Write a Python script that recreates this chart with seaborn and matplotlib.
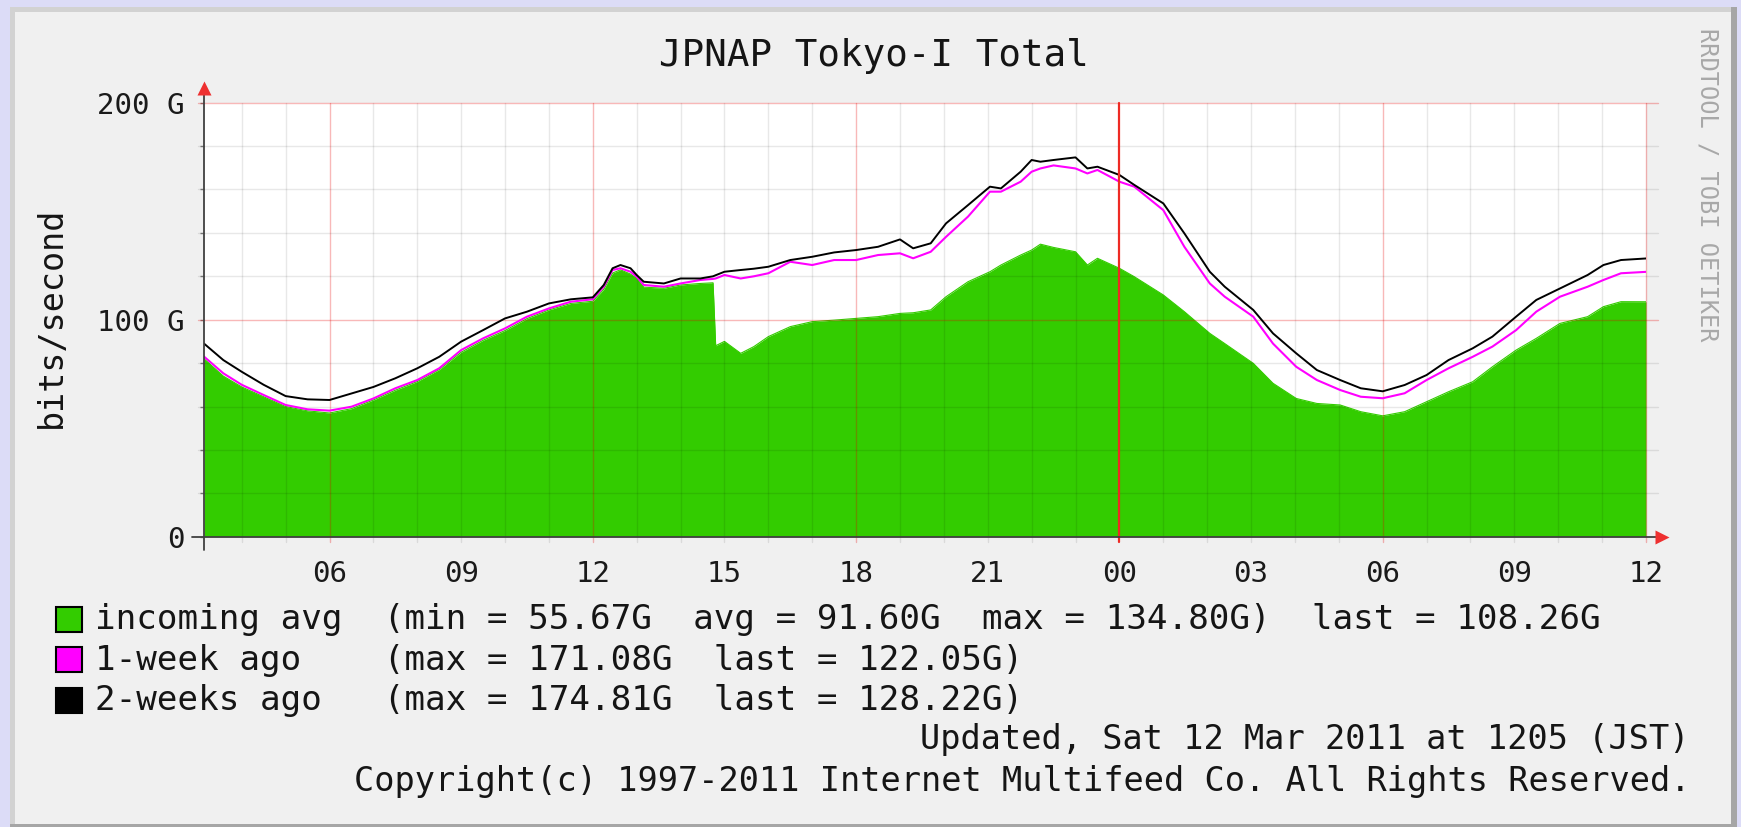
import numpy as np
import pandas as pd
import matplotlib
matplotlib.use("Agg")
import matplotlib.pyplot as plt
from matplotlib.patches import Rectangle
import seaborn as sns

# ---------------- data (hours relative to 06:00 of day 1) ----------------
hours = [-2.86, -2.42, -2.0, -1.5, -1.0, -0.5, 0.0, 0.5, 1.0, 1.5, 2.0, 2.5, 3.0, 3.5,
         4.0, 4.5, 5.0, 5.5, 6.0, 6.25, 6.45, 6.63, 6.86, 7.0, 7.16, 7.62, 8.0, 8.45,
         8.74, 8.80, 9.0, 9.37, 9.67, 10.0, 10.5, 11.0, 11.5, 12.0, 12.5, 13.0, 13.3,
         13.7, 14.05, 14.55, 15.05, 15.3, 15.75, 16.0, 16.2, 16.5, 17.0, 17.27, 17.5,
         18.0, 18.34, 19.0, 19.48, 20.06, 20.4, 21.05, 21.5, 22.03, 22.5, 23.03, 23.5,
         24.0, 24.5, 25.0, 25.5, 26.05, 26.5, 27.04, 27.5, 28.04, 28.67, 29.03, 29.43, 30.0]

incoming = [82, 74, 69, 64.5, 60, 58, 57, 59, 63, 67.5, 71.5, 77, 85, 90.5, 95, 100.5,
            104.5, 107.5, 108.5, 114, 121.5, 123, 121, 119, 115, 114.5, 116, 116.7, 117,
            88, 90, 84.5, 87.6, 92.2, 96.8, 99.1, 99.8, 100.6, 101.4, 102.9, 103.2, 104.5,
            110.6, 117.5, 122.1, 125.2, 129.8, 132.1, 134.8, 133.3, 131.3, 125.2, 128.3,
            123.7, 119.8, 111.4, 103.7, 93.7, 89, 79.9, 70.7, 63.7, 61.4, 60.7, 57.6, 55.7,
            57.6, 62.2, 66.8, 71.4, 78.3, 86, 91.4, 98.3, 101.4, 106, 108.3, 108.26]

week1_ago = [83, 75.3, 70, 65.3, 60.7, 58.7, 58.1, 59.9, 63.7, 68.4, 72.2, 77.6, 86, 91.4,
             96, 101.4, 105.2, 108.3, 109.4, 115.2, 122.9, 123.7, 122.1, 119.8, 116, 115.2,
             116.7, 118.3, 118.8, 119, 120.6, 119, 120, 121.4, 126.7, 125.2, 127.5, 127.5,
             129.8, 130.6, 128.3, 131.3, 138.2, 147.5, 159, 159, 163.6, 168.2, 169.7, 171.1,
             169.7, 167.4, 169, 163.6, 161.3, 150.5, 133.6, 116.7, 110.6, 101.4, 89, 78.3,
             72.2, 67.6, 64.5, 63.8, 66.1, 72.2, 77.6, 82.9, 87.6, 95.2, 103.7, 110.6, 115.2,
             118.3, 121.4, 122.05]

week2_ago = [89, 81.4, 76, 70, 64.8, 63.3, 63, 66, 69, 73, 77.6, 82.9, 89.9, 95.2, 100.6,
             103.7, 107.5, 109.4, 110.3, 116, 123.7, 125.2, 123.7, 120.6, 117.5, 116.7, 119,
             119, 120, 120.5, 122.1, 122.9, 123.5, 124.4, 127.5, 129, 131, 132.1, 133.6, 137,
             132.9, 135.2, 144.4, 152.8, 161.3, 160.5, 168.2, 173.6, 172.8, 173.6, 174.8,
             169.7, 170.5, 166.7, 162.1, 153.6, 139.8, 122.1, 115.2, 104.5, 93.7, 84.5, 76.8,
             72.2, 68.4, 67, 69.9, 74.5, 81.4, 86.8, 92.2, 101.4, 109.1, 114.4, 120.6, 125.2,
             127.5, 128.22]

tick_hours = [0, 3, 6, 9, 12, 15, 18, 21, 24, 27, 30]
tick_labels = ["06", "09", "12", "15", "18", "21", "00", "03", "06", "09", "12"]
ytick_values = [0, 100, 200]
ytick_labels = ["0", "100 G", "200 G"]
midnight_hours = [18]

title = "JPNAP Tokyo-I Total"
ylabel = "bits/second"
watermark = "RRDTOOL / TOBI OETIKER"
legend_colors = ["#33cc00", "#ff00ff", "#000000"]
legend_rows = [
    "incoming avg  (min = 55.67G  avg = 91.60G  max = 134.80G)  last = 108.26G",
    "1-week ago    (max = 171.08G  last = 122.05G)",
    "2-weeks ago   (max = 174.81G  last = 128.22G)",
]
footer_rows = [
    "Updated, Sat 12 Mar 2011 at 1205 (JST)",
    "Copyright(c) 1997-2011 Internet Multifeed Co. All Rights Reserved.",
]

df = pd.DataFrame({"hours": hours, "incoming": incoming,
                   "week1": week1_ago, "week2": week2_ago})

# ---------------- figure ----------------
W, H = 1741, 827
sns.set_theme(style="white")
plt.rcParams['font.family'] = ['DejaVu Sans Mono', 'DejaVu Sans']

fig = plt.figure(figsize=(W / 100, H / 100), dpi=100)
fig.patch.set_facecolor('#dcdcf7')


def px_rect(x0, y0, x1, y1, color, ec='none', lw=0, z=-10):
    r = Rectangle((x0 / W, 1 - y1 / H), (x1 - x0) / W, (y1 - y0) / H,
                  transform=fig.transFigure, facecolor=color, edgecolor=ec,
                  linewidth=lw, zorder=z)
    fig.add_artist(r)
    return r


px_rect(9.5, 7, 1737, 827, '#a6a6a6')
px_rect(9.5, 7, 1731, 824, '#d2d2d2')
px_rect(14.5, 12, 1731, 824, '#f0f0f0')

ax_left, ax_right, ax_top, ax_bot = 204, 1646, 102.7, 536.7
ax = fig.add_axes([ax_left / W, 1 - ax_bot / H, (ax_right - ax_left) / W, (ax_bot - ax_top) / H])
ax.set_facecolor('white')
for s in ax.spines.values():
    s.set_visible(False)

# green area
ax.fill_between(df["hours"], 0, df["incoming"], color='#33cc00', lw=0, zorder=1)
sns.lineplot(data=df, x="hours", y="incoming", color='#33cc00', lw=0.8, ax=ax,
             legend=False, zorder=1, sort=False, estimator=None)

ax.set_xlim(-2.86, 30)
ax.set_ylim(0, 200)

# grid
for h in range(-2, 31):
    if h in midnight_hours:
        continue
    col = (0.9, 0.0, 0.0, 0.28) if h % 6 == 0 else (0.0, 0.0, 0.0, 0.09)
    ax.axvline(h, ymin=-0.012, ymax=1.0, color=col, lw=1.0, zorder=2, clip_on=False)
for v in range(20, 201, 20):
    col = (0.9, 0.0, 0.0, 0.28) if v % 100 == 0 else (0.0, 0.0, 0.0, 0.09)
    ax.axhline(v, xmin=-0.004, xmax=1.008, color=col, lw=1.0, zorder=2, clip_on=False)

# lines
sns.lineplot(data=df, x="hours", y="week1", color='#ff00ff', lw=1.5, ax=ax,
             legend=False, zorder=3, sort=False, estimator=None)
sns.lineplot(data=df, x="hours", y="week2", color='#000000', lw=1.4, ax=ax,
             legend=False, zorder=4, sort=False, estimator=None)

for h in midnight_hours:
    ax.axvline(h, ymin=-0.012, ymax=1.0, color='#ee2a24', lw=1.6, zorder=5, clip_on=False)

# axes with arrows
ax.plot([-0.008, 1.012], [0, 0], transform=ax.transAxes, color='#404040', lw=1.3,
        clip_on=False, zorder=6)
ax.plot([0, 0], [-0.03, 1.035], transform=ax.transAxes, color='#404040', lw=1.3,
        clip_on=False, zorder=6)
ax.plot([1.011], [0], marker='>', ms=10, color='#ee3030', mec='none',
        transform=ax.transAxes, clip_on=False, zorder=7)
ax.plot([0], [1.033], marker='^', ms=10, color='#ee3030', mec='none',
        transform=ax.transAxes, clip_on=False, zorder=7)

ax.set_xlabel("")
ax.set_ylabel("")
ax.set_xticks(tick_hours, tick_labels)
ax.set_yticks(ytick_values, ytick_labels)
ax.set_yticks(list(range(0, 201, 20)), minor=True)
ax.tick_params(axis='x', which='both', length=0, pad=16.5, labelsize=21, labelcolor='#1a1a1a')
ax.tick_params(axis='y', which='both', left=True, length=3, width=1, color='#808080',
               pad=11, labelsize=21, labelcolor='#1a1a1a', direction='out')

# texts
txt = '#151515'
fig.text(874 / W, 1 - 66 / H, title, ha='center', va='baseline', fontsize=27, color=txt)
fig.text(51 / W, 1 - 317 / H, ylabel, ha='center', va='center', rotation=90,
         fontsize=24, color=txt)
fig.text(1708 / W, 1 - 185 / H, watermark, ha='center', va='center', rotation=270,
         fontsize=17, color='#a8a8a8')

row_centers = [619.5, 659.5, 700]
row_baselines = [629.3, 669.6, 710]
for col, yc, yb, row in zip(legend_colors, row_centers, row_baselines, legend_rows):
    px_rect(55.5, yc - 12.5, 81.5, yc + 12.5, col, ec='black', lw=1.5, z=5)
    fig.text(95 / W, 1 - yb / H, row, ha='left', va='baseline', fontsize=24.7, color=txt)

for yb, row in zip([749, 791], footer_rows):
    fig.text(1690 / W, 1 - yb / H, row, ha='right', va='baseline', fontsize=24.2, color=txt)

fig.savefig("out.png", dpi=100, facecolor=fig.get_facecolor())
